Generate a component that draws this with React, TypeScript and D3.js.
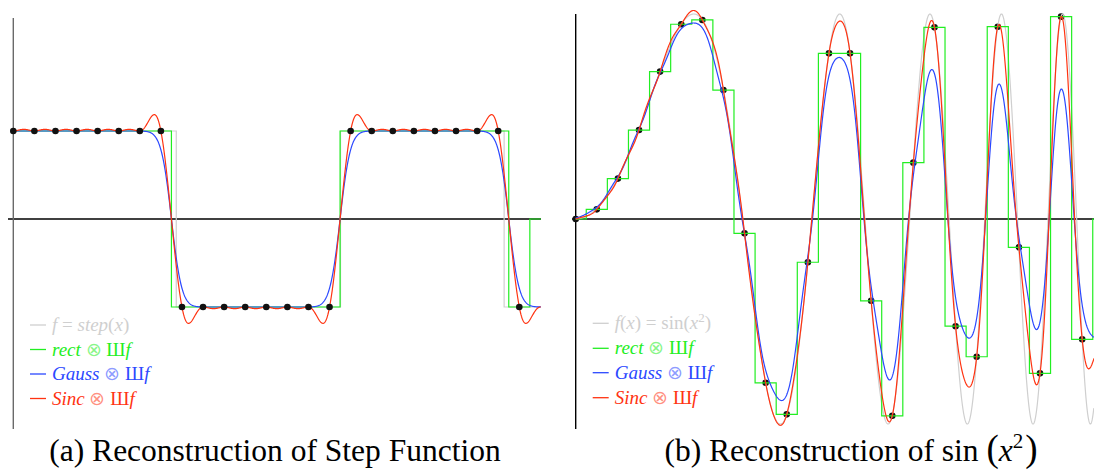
import React, { useEffect, useRef } from 'react';
import * as d3 from 'd3';

// samples of the step function (one per comb tooth)
const stepSamples = [1, 1, 1, 1, 1, 1, 1, 1, -1, -1, -1, -1, -1, -1, -1, -1, 1, 1, 1, 1, 1, 1, 1, 1, -1];
// where the true step flips (in sample units)
const stepBreaks = [7.73, 15.52, 23.28];
const stepLevels = [1, -1, 1, -1];

// samples of sin(x^2)
const sinSamples = [
  0, 0.047, 0.197, 0.434, 0.719, 0.95, 0.971, 0.629, -0.07, -0.799, -0.953, -0.211, 0.808,
  0.808, -0.399, -0.96, 0.275, 0.935, -0.523, -0.672, 0.938, -0.138, -0.753, 0.987, -0.587,
];
const sinSpacing = 0.224; // x distance between two samples

const legendNames = ['rect', 'Gauss', 'Sinc'];
const colors = { gray: '#cfcfcf', rect: '#22ee22', Gauss: '#2b48ff', Sinc: '#ff3311' };

const SIGMA = 0.5;

const sinc = (x: number) => (x === 0 ? 1 : Math.sin(Math.PI * x) / (Math.PI * x));
const lanczos = (x: number) => (Math.abs(x) >= 2 ? 0 : sinc(x) * sinc(x / 2));
const at = (arr: number[], i: number) => arr[Math.max(0, Math.min(arr.length - 1, i))];

const sincRec = (arr: number[], t: number) => {
  let s = 0;
  const f = Math.floor(t);
  for (let i = f - 2; i <= f + 2; i++) s += at(arr, i) * lanczos(t - i);
  return s;
};

const gaussRec = (arr: number[], t: number) => {
  let s = 0,
    w = 0;
  const f = Math.floor(t);
  for (let i = f - 4; i <= f + 4; i++) {
    const k = Math.exp(-((t - i) * (t - i)) / (2 * SIGMA * SIGMA));
    s += at(arr, i) * k;
    w += k;
  }
  return s / w;
};

const rectPoints = (arr: number[], tEnd: number) => {
  const pts: [number, number][] = [];
  arr.forEach((v, i) => {
    pts.push([Math.max(0, i - 0.5), v]);
    pts.push([i + 0.5, v]);
  });
  pts.push([arr.length - 0.5, 0]);
  pts.push([tEnd, 0]);
  return pts;
};

const SERIF = 'Liberation Serif';

const Chart = () => {
  const svgRef = useRef<SVGSVGElement>(null);

  useEffect(() => {
    const svg = d3.select(svgRef.current);
    svg.selectAll('*').remove();

    const drawPanel = (opts: any) => {
      const { x, y, samples, tEnd, grayPts, axisX0, axisTop, vAxisColor, dotsOnTop, legendX, legendRows, grayLegend } = opts;
      const g = svg.append('g');
      const line = d3
        .line<[number, number]>()
        .x((d) => x(d[0]))
        .y((d) => y(d[1]));

      // axes
      g.append('line')
        .attr('x1', axisX0).attr('x2', x(tEnd))
        .attr('y1', y(0)).attr('y2', y(0))
        .attr('stroke', '#000').attr('stroke-width', 1.3);
      g.append('line')
        .attr('x1', x(0)).attr('x2', x(0))
        .attr('y1', axisTop).attr('y2', 429)
        .attr('stroke', vAxisColor).attr('stroke-width', 1.4);

      const ts = d3.range(0, tEnd + 0.001, 0.02);

      const dots = () =>
        g.append('g')
          .selectAll('circle')
          .data(samples)
          .join('circle')
          .attr('cx', (_d: number, i: number) => x(i))
          .attr('cy', (d: number) => y(d))
          .attr('r', 3.3)
          .attr('fill', '#111');

      if (!dotsOnTop) dots();

      g.append('path').attr('d', line(grayPts)).attr('fill', 'none')
        .attr('stroke', colors.gray).attr('stroke-width', 1.2);
      g.append('path').attr('d', line(rectPoints(samples, tEnd))).attr('fill', 'none')
        .attr('stroke', colors.rect).attr('stroke-width', 1.2);
      g.append('path').attr('d', line(ts.map((t) => [t, gaussRec(samples, t)] as [number, number])))
        .attr('fill', 'none').attr('stroke', colors.Gauss).attr('stroke-width', 1.2);
      g.append('path').attr('d', line(ts.map((t) => [t, sincRec(samples, t)] as [number, number])))
        .attr('fill', 'none').attr('stroke', colors.Sinc).attr('stroke-width', 1.2);

      if (dotsOnTop) dots();

      // legend
      const keys = ['gray', ...legendNames];
      keys.forEach((k, i) => {
        const cy = legendRows[i];
        const c = (colors as any)[k];
        g.append('line')
          .attr('x1', legendX).attr('x2', legendX + 16)
          .attr('y1', cy).attr('y2', cy)
          .attr('stroke', c).attr('stroke-width', 1.3);
        const txt = g.append('text')
          .attr('x', legendX + 22).attr('y', cy + 6)
          .attr('fill', c)
          .style('font-family', SERIF)
          .style('font-size', '19px');
        const parts: [string, string, any?][] = i === 0 ? grayLegend : [
          [k, 'italic'],
          [' \u2297 ', 'normal', 0.55],
          ['\u0428', 'normal'],
          ['f', 'italic'],
        ];
        parts.forEach(([s, st, extra]) => {
          const sp = txt.append('tspan').style('font-style', st).text(s);
          if (typeof extra === 'number') sp.attr('fill-opacity', extra);
          if (extra === 'sup') sp.style('font-size', '13px').attr('dy', -7);
          if (extra === 'after-sup') sp.attr('dy', 7);
        });
      });
    };

    // (a) step function
    const xL = d3.scaleLinear().domain([0, 24]).range([13.3, 519.3]);
    const yL = d3.scaleLinear().domain([-1, 1]).range([307, 131]);
    const tEndL = xL.invert(541);
    const grayStep: [number, number][] = [];
    const edges = [0, ...stepBreaks, tEndL];
    stepLevels.forEach((v, i) => {
      grayStep.push([edges[i], v]);
      grayStep.push([edges[i + 1], v]);
    });
    drawPanel({
      x: xL, y: yL, samples: stepSamples, tEnd: tEndL, grayPts: grayStep,
      axisX0: 8, axisTop: 18, vAxisColor: '#6a6a6a', dotsOnTop: true,
      legendX: 30, legendRows: [325, 349.5, 374, 398.5],
      grayLegend: [['f', 'italic'], [' = ', 'normal'], ['step', 'italic'], ['(', 'normal'], ['x', 'italic'], [')', 'normal']],
    });

    // (b) sin(x^2)
    const xR = d3.scaleLinear().domain([0, 24]).range([575.7, 1082.2]);
    const yR = d3.scaleLinear().domain([-1, 1]).range([424, 14]);
    const tEndR = xR.invert(1094);
    const graySin = d3.range(0, tEndR, 0.01).map((t) => {
      const xv = t * sinSpacing;
      return [t, Math.sin(xv * xv)] as [number, number];
    });
    drawPanel({
      x: xR, y: yR, samples: sinSamples, tEnd: tEndR, grayPts: graySin,
      axisX0: 572, axisTop: 14, vAxisColor: '#000', dotsOnTop: false,
      legendX: 592.7, legendRows: [323.3, 348.3, 372.7, 397.7],
      grayLegend: [['f', 'italic'], ['(', 'normal'], ['x', 'italic'], [')', 'normal'], [' = sin(', 'normal'], ['x', 'italic'], ['2', 'normal', 'sup'], [')', 'normal', 'after-sup']],
    });

    // captions
    const capText = (xPos: number) =>
      svg.append('text')
        .attr('x', xPos).attr('y', 461).attr('text-anchor', 'middle').attr('fill', '#000')
        .style('font-family', SERIF).style('font-size', '31.5px');
    capText(275).text('(a) Reconstruction of Step Function');
    const tb = capText(851);
    tb.append('tspan').text('(b) Reconstruction of sin ');
    tb.append('tspan').style('font-size', '37px').text('(');
    tb.append('tspan').style('font-style', 'italic').text('x');
    tb.append('tspan').style('font-size', '21px').attr('dy', -13).text('2');
    tb.append('tspan').style('font-size', '37px').attr('dy', 13).attr('dx', 2).text(')');
  }, []);

  return (
    <svg
      ref={svgRef}
      width={1094}
      height={471}
      style={{ position: 'absolute', left: 0, top: 0, background: '#fff' }}
    />
  );
};

export default function App() {
  return <Chart />;
}
